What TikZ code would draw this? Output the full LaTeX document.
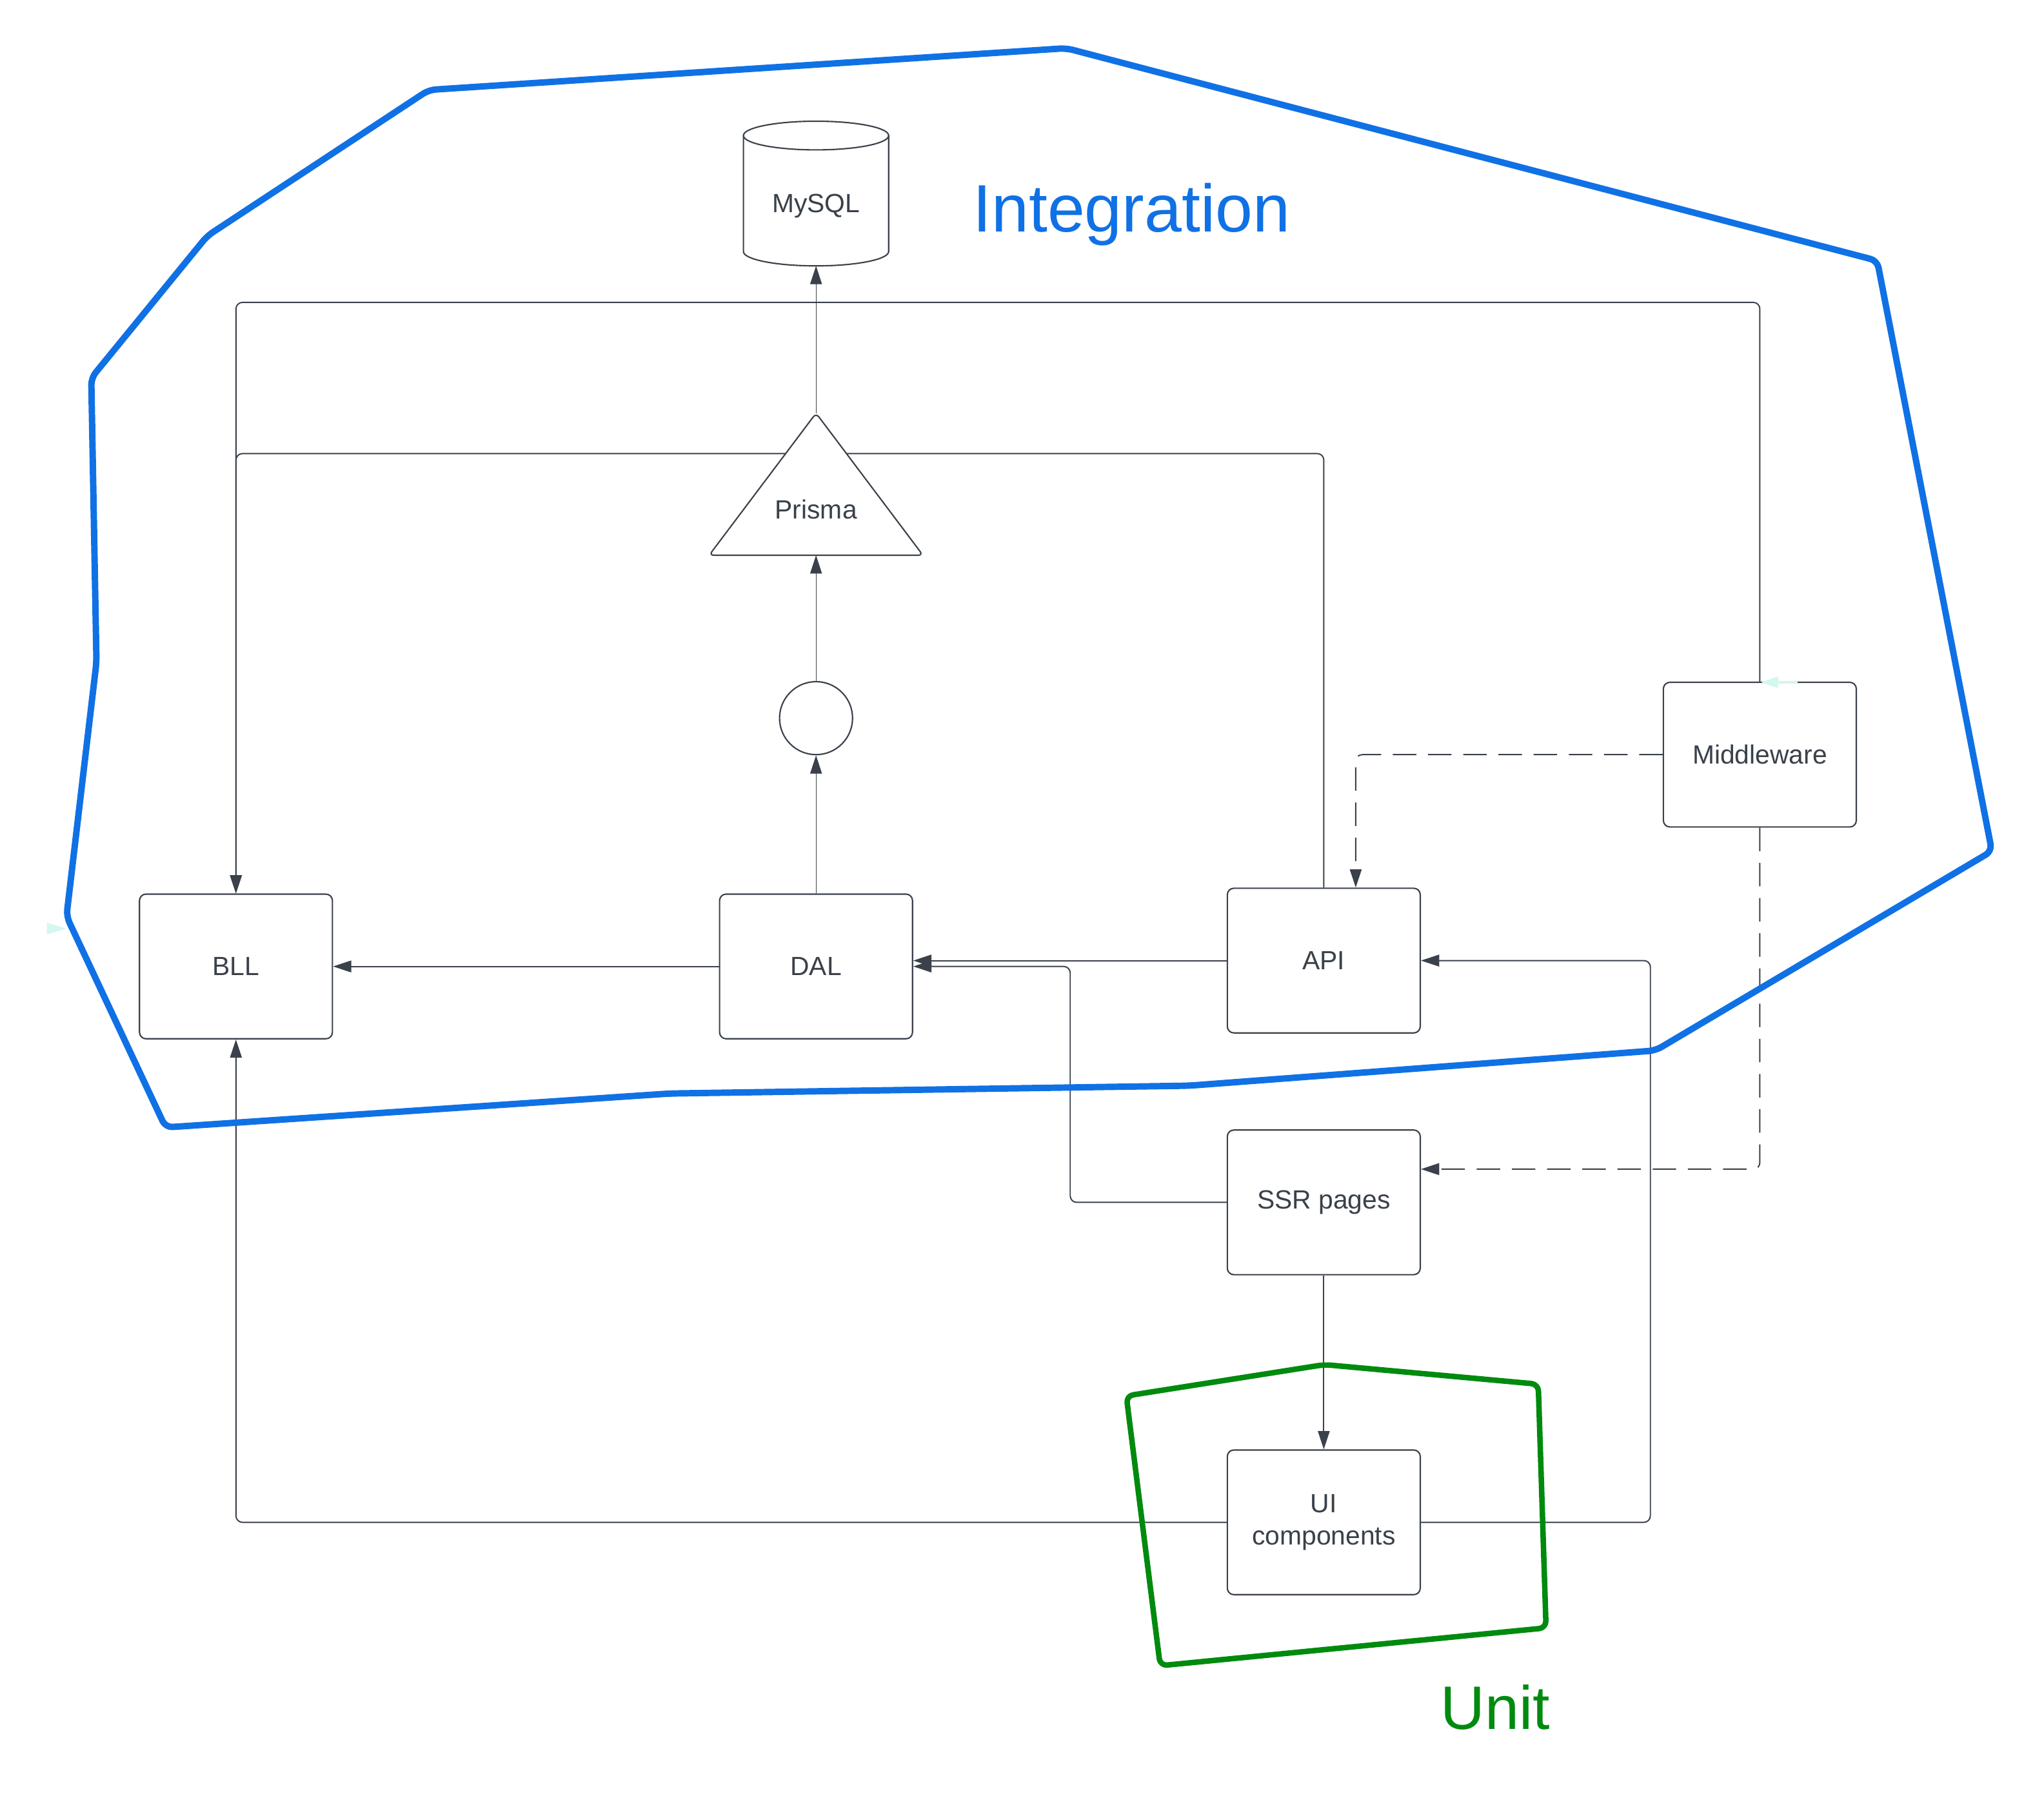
\documentclass[tikz,border=0pt]{standalone}
\usepackage{fontspec}
\setmainfont{Liberation Sans}
\usepackage{tikz}
\usetikzlibrary{positioning, arrows.meta, backgrounds}

\definecolor{ink}{HTML}{3A414A}
\definecolor{intblue}{HTML}{1071E5}
\definecolor{unitgreen}{HTML}{008A0E}
\definecolor{ghost}{HTML}{D4F7F0}

\begin{document}
\begin{tikzpicture}[on grid, font=\fontsize{11.5}{14.2}\selectfont, text=ink,
   box/.style={draw=ink, line width=0.6pt, fill=white, rounded corners=1mm,
      minimum width=2.96cm, minimum height=2.22cm, align=center},
   conn/.style={draw=ink, line width=0.55pt, rounded corners=1mm,
      -{Triangle[length=2.8mm, width=1.8mm]}},
   thinconn/.style={conn, line width=0.3pt},
   dashconn/.style={conn, dash pattern=on 3.6mm off 1.8mm},
   zone/.style={line width=2.8pt, rounded corners=3pt, line join=round}]

   \useasboundingbox (0,0) rectangle (31.36,-27.86);

   % 定义节点
   \node[box] (bll) at (3.62,-14.83) {BLL};
   \node[box] (dal) [right=8.9cm of bll] {DAL};
   \node[box] (api) [above right=0.09cm and 7.79cm of dal] {API};
   \node[box] (ssr) [below=3.71cm of api] {SSR pages};
   \node[box] (ui) [below=4.91cm of ssr] {UI\\components};
   \node[box] (mw) [above right=3.16cm and 6.69cm of api] {Middleware};
   \node[circle, draw=ink, line width=0.6pt, fill=white, minimum size=1.12cm] (circ) [above=3.81cm of dal] {};
   \node (prisma) [above=3.2cm of circ] {Prisma};
   \node (mysql) [above=4.66cm of prisma] {MySQL};

   % MySQL 圆柱
   \draw[ink, line width=0.6pt] ([shift={(-1.114,1.08)}]mysql.center)
      -- ([shift={(-1.114,-0.70)}]mysql.center)
      arc[start angle=180, end angle=360, x radius=1.114cm, y radius=0.22cm]
      -- ([shift={(1.114,1.08)}]mysql.center);
   \draw[ink, line width=0.6pt] ([yshift=1.08cm]mysql.center) ellipse [x radius=1.114cm, y radius=0.22cm];

   % 连线
   \begin{scope}[on background layer]
   \coordinate (ptop) at ([yshift=1.48cm]prisma.center);
   \coordinate (pbot) at ([yshift=-0.70cm]prisma.center);
   \coordinate (mysqlbot) at ([yshift=-0.92cm]mysql.center);
   \coordinate (topbus) at (0,-4.64);
   \coordinate (midbus) at (0,-6.96);

   \draw[thinconn] (ptop) -- (mysqlbot);
   \draw[thinconn] (circ) -- (pbot);
   \draw[thinconn] (dal) -- (circ);
   \draw[conn] (dal) -- (bll);
   \draw[conn] (api.west) -- (api.west -| dal.east);
   \draw[conn] (ssr.west) -- ++(-2.4,0) |- (dal.east);
   \draw[conn] (mw.north) -- (mw.north |- topbus) -| (bll.north);
   \draw[conn] (api.north) -- (api.north |- midbus) -| (bll.north);
   \draw[dashconn] (mw.west) -| ([xshift=0.49cm]api.north);
   \draw[dashconn] (mw.south) |- ([yshift=0.51cm]ssr.east);
   \draw[conn] (ssr) -- (ui);
   \draw[conn] (ui.west) -| (bll.south);
   \draw[conn] (ui.east) -- ++(3.52,0) |- (api.east);

   % Prisma 三角形
   \draw[ink, line width=0.6pt, fill=white, rounded corners=2pt]
      (ptop) -- ([xshift=1.64cm]pbot) -- ([xshift=-1.64cm]pbot) -- cycle;
   \end{scope}

   % 测试范围
   \draw[zone, intblue] (6.58,-1.38) -- (16.36,-0.74) -- (28.80,-4.00) -- (30.56,-13.06)
      -- (25.40,-16.12) -- (18.24,-16.66) -- (10.28,-16.78) -- (2.54,-17.30)
      -- (1.02,-14.06) -- (1.48,-10.16) -- (1.40,-5.80) -- (3.18,-3.62) -- cycle;
   \draw[zone, unitgreen, line width=2.4pt] (17.28,-21.42) -- (20.32,-20.94) -- (23.60,-21.24)
      -- (23.72,-24.98) -- (17.80,-25.56) -- cycle;

   \node[font=\fontsize{29.3}{35}\selectfont, text=intblue, anchor=base] (integ) at (17.36,-3.56) {Integration};
   \node[font=\fontsize{26.8}{32}\selectfont, text=unitgreen, anchor=base] (unit) at (22.94,-26.54) {Unit};

   % 残留箭头
   \fill[ghost] (1.02,-14.25) -- (0.72,-14.16) -- (0.72,-14.34) -- cycle;
   \draw[ghost, line width=0.5pt] (27.28,-10.47) -- (27.58,-10.47);
   \fill[ghost] (27.02,-10.47) -- (27.28,-10.38) -- (27.28,-10.56) -- cycle;
\end{tikzpicture}
\end{document}
